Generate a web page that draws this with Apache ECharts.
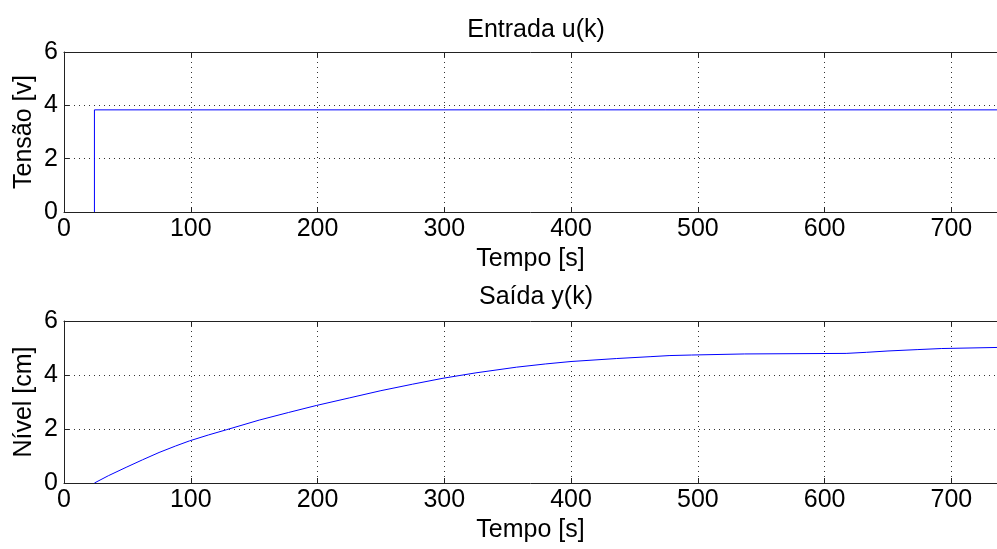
<!DOCTYPE html>
<html>
<head>
<meta charset="utf-8">
<script src="https://cdn.jsdelivr.net/npm/echarts@6/dist/echarts.min.js"></script>
<style>
  html, body { margin: 0; padding: 0; background: #fff; }
  #chart { width: 997px; height: 549px; }
</style>
</head>
<body>
<div id="chart"></div>
<script>
// input step u(k)
var tempoEntrada = [24, 24, 736];
var tensao = [0, 3.83, 3.83];

// output y(k)
var tempoSaida = [24, 35, 49, 62, 75, 88, 99, 114, 128, 154, 177, 199, 225, 250, 275, 299, 325, 357, 380, 400, 436, 463, 478, 495, 537, 617, 633, 650, 673, 692, 736];
var nivel = [0, 0.27, 0.58, 0.86, 1.13, 1.37, 1.56, 1.78, 1.97, 2.33, 2.61, 2.87, 3.15, 3.42, 3.66, 3.88, 4.08, 4.29, 4.41, 4.50, 4.61, 4.68, 4.72, 4.74, 4.78, 4.80, 4.84, 4.89, 4.94, 4.98, 5.02];

var xTicks = [0, 100, 200, 300, 400, 500, 600, 700];
var xMax = 736;

function pairs(xs, ys) {
  return xs.map(function (x, i) { return [x, ys[i]]; });
}

var font = 'Liberation Sans, Arial, Helvetica, sans-serif';
var fs = 25;

function bottomAxis(gridIndex) {
  return {
    type: 'value', gridIndex: gridIndex, position: 'bottom',
    min: 0, max: xMax, interval: 100,
    name: 'Tempo [s]', nameLocation: 'middle', nameGap: 35,
    nameTextStyle: { color: '#000', fontSize: fs, fontFamily: font },
    axisLine: { show: true, lineStyle: { color: '#222', width: 1 } },
    axisTick: { show: true, inside: true, length: 5, lineStyle: { color: '#222' } },
    axisLabel: { color: '#000', fontSize: fs, fontFamily: font, margin: 5, showMaxLabel: false,
      formatter: function (v) { return xTicks.indexOf(v) >= 0 ? String(v) : ''; } },
    splitLine: { show: true, lineStyle: { color: '#333', type: [1, 4], width: 1 } }
  };
}

function topAxis(gridIndex) {
  return {
    type: 'value', gridIndex: gridIndex, position: 'top',
    min: 0, max: xMax, interval: 100,
    axisLine: { show: true, lineStyle: { color: '#222', width: 1 } },
    axisTick: { show: true, inside: true, length: 5, lineStyle: { color: '#222' } },
    axisLabel: { show: false },
    splitLine: { show: false }
  };
}

function leftAxis(gridIndex, name) {
  return {
    type: 'value', gridIndex: gridIndex,
    min: 0, max: 6, interval: 2,
    name: name, nameLocation: 'middle', nameGap: 27, nameRotate: 90,
    nameMoveOverlap: false,
    nameTextStyle: { color: '#000', fontSize: fs, fontFamily: font },
    axisLine: { show: true, lineStyle: { color: '#222', width: 1 } },
    axisTick: { show: true, inside: true, length: 5, lineStyle: { color: '#222' } },
    axisLabel: { color: '#000', fontSize: fs, fontFamily: font, margin: 6 },
    splitLine: { show: true, lineStyle: { color: '#333', type: [1, 4], width: 1 } }
  };
}

var chart = echarts.init(document.getElementById('chart'));
chart.setOption({
  animation: false,
  backgroundColor: '#fff',
  title: [
    { text: 'Entrada u(k)', left: 531, top: 13, textAlign: 'center',
      textStyle: { color: '#000', fontWeight: 'normal', fontSize: fs, fontFamily: font } },
    { text: 'Saída y(k)', left: 531, top: 280, textAlign: 'center',
      textStyle: { color: '#000', fontWeight: 'normal', fontSize: fs, fontFamily: font } }
  ],
  grid: [
    { left: 64, right: 0, top: 52, height: 160 },
    { left: 64, right: 0, top: 321, height: 162 }
  ],
  xAxis: [bottomAxis(0), bottomAxis(1), topAxis(0), topAxis(1)],
  yAxis: [leftAxis(0, 'Tensão [v]'), leftAxis(1, 'Nível [cm]')],
  series: [
    { type: 'line', xAxisIndex: 0, yAxisIndex: 0, data: pairs(tempoEntrada, tensao),
      showSymbol: false, lineStyle: { color: '#0000ff', width: 1 } },
    { type: 'line', xAxisIndex: 1, yAxisIndex: 1, data: pairs(tempoSaida, nivel),
      showSymbol: false, lineStyle: { color: '#0000ff', width: 1 } }
  ]
});
</script>
</body>
</html>
